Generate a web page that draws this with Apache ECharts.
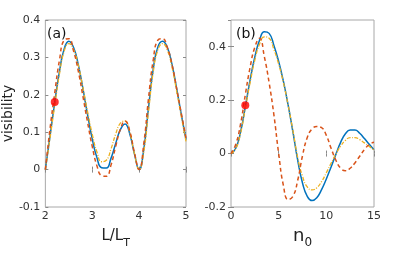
<!DOCTYPE html>
<html><head><meta charset="utf-8">
<script src="https://cdn.jsdelivr.net/npm/echarts@6/dist/echarts.min.js"></script>
<style>html,body{margin:0;padding:0;background:#fff}#c{width:415px;height:265px}</style>
</head><body><div id="c"></div>
<script>
// Panel (a): x = L/L_T
var xa = [2.0,2.1,2.2,2.3,2.4,2.5,2.6,2.7,2.8,2.9,3.0,3.1,3.2,3.3,3.4,3.5,3.6,3.7,3.8,3.9,4.0,4.1,4.2,4.3,4.4,4.5,4.6,4.7,4.8,4.9,5.0];
var aBlue = [0,0.09,0.18,0.262,0.322,0.343,0.327,0.282,0.217,0.147,0.082,0.032,0.005,0.004,0.03,0.07,0.107,0.122,0.096,0.042,0.0,0.055,0.165,0.268,0.328,0.343,0.327,0.282,0.217,0.147,0.08];
var aOrange = [0,0.11,0.205,0.292,0.346,0.35,0.318,0.265,0.197,0.127,0.062,0.01,-0.016,-0.018,0.012,0.062,0.108,0.13,0.103,0.045,0.0,0.07,0.19,0.292,0.346,0.35,0.327,0.282,0.217,0.15,0.085];
var aYellow = [0,0.085,0.172,0.255,0.316,0.337,0.322,0.28,0.22,0.155,0.095,0.047,0.021,0.025,0.055,0.095,0.124,0.13,0.1,0.043,0.0,0.048,0.155,0.26,0.32,0.337,0.32,0.275,0.21,0.142,0.075];
var aDot = [[2.2, 0.181]];
// Panel (b): x = n_0
var xb = [0,0.5,1,1.5,2,2.5,3,3.5,4,4.5,5,5.5,6,6.5,7,7.5,8,8.5,9,9.5,10,10.5,11,11.5,12,12.5,13,13.5,14,14.5,15];
var bBlue = [0,0.02,0.08,0.175,0.275,0.362,0.425,0.456,0.45,0.405,0.345,0.27,0.18,0.08,-0.025,-0.11,-0.16,-0.176,-0.165,-0.135,-0.095,-0.05,-0.003,0.042,0.074,0.088,0.088,0.076,0.056,0.035,0.014];
var bOrange = [0,0.035,0.11,0.22,0.322,0.398,0.432,0.362,0.265,0.145,0.0,-0.12,-0.172,-0.16,-0.1,-0.008,0.06,0.092,0.101,0.097,0.068,0.02,-0.025,-0.055,-0.064,-0.055,-0.035,-0.01,0.015,0.034,0.042];
var bYellow = [0,0.018,0.075,0.17,0.265,0.35,0.41,0.437,0.432,0.39,0.335,0.265,0.18,0.085,-0.015,-0.085,-0.125,-0.136,-0.128,-0.105,-0.072,-0.036,-0.002,0.028,0.049,0.06,0.06,0.052,0.04,0.027,0.013];
var bDot = [[1.5, 0.181]];
var yTicksA = [-0.1, 0.4, 0.1];
var yTicksB = [-0.2, 0.5, 0.2];

function zip(x, y){ return x.map(function(v,i){ return [v, y[i]]; }); }

var C_BLUE = '#0072BD', C_OR = '#D95319', C_YE = '#EDB120';
var tickStyle = {show:true, inside:true, length:3, lineStyle:{color:'#8a8a8a', width:1}};
var labStyle = {color:'#333', fontSize:11, fontFamily:'DejaVu Sans'};

function xAxisDef(grid, min, max, interval, name, rich, gap){
  return [{
    type:'value', gridIndex:grid, min:min, max:max, interval:interval,
    axisLine:{show:false}, splitLine:{show:false}, axisTick:tickStyle,
    axisLabel:Object.assign({margin:4}, labStyle),
    name:name, nameLocation:'middle', nameGap:gap,
    nameTextStyle:{rich:rich}
  },{
    type:'value', gridIndex:grid, min:min, max:max, interval:interval, position:'top',
    axisLine:{show:false}, splitLine:{show:false}, axisTick:tickStyle, axisLabel:{show:false}
  }];
}
function yAxisDef(grid, t, name){
  return [{
    type:'value', gridIndex:grid, min:t[0], max:t[1], interval:t[2],
    axisLine:{show:false}, splitLine:{show:false}, axisTick:tickStyle,
    axisLabel:Object.assign({margin:5, showMaxLabel: t[1] === 0.4}, labStyle),
    name:name, nameLocation:'middle', nameGap:28,
    nameTextStyle:{color:'#222', fontSize:14, fontFamily:'DejaVu Sans'}
  },{
    type:'value', gridIndex:grid, min:t[0], max:t[1], interval:t[2], position:'right',
    axisLine:{show:false}, splitLine:{show:false}, axisTick:tickStyle, axisLabel:{show:false}
  }];
}

var xaAx = xAxisDef(0, 2, 5, 1, '{n|L/L}{s|T}', {
  n:{fontSize:15, color:'#222', fontFamily:'DejaVu Sans', verticalAlign:'top'},
  s:{fontSize:11, color:'#222', fontFamily:'DejaVu Sans', padding:[9,0,0,0], verticalAlign:'top'}
}, 22);
var xbAx = xAxisDef(1, 0, 15, 5, '{n|n}{s|0}', {
  n:{fontSize:18, color:'#222', fontFamily:'DejaVu Sans', verticalAlign:'top'},
  s:{fontSize:12, color:'#222', fontFamily:'DejaVu Sans', padding:[10,0,0,0], verticalAlign:'top'}
}, 20);
var yaAx = yAxisDef(0, yTicksA, 'visibility');
var ybAx = yAxisDef(1, yTicksB, '');

function lineS(xi, yi, data, color, type, width){
  return {type:'line', xAxisIndex:xi, yAxisIndex:yi, data:data, showSymbol:false, smooth:0.5,
    clip:false,
    lineStyle:{color:color, width:width, type:type}, silent:true, animation:false, z:type==='solid'?3:4};
}

var option = {
  animation:false,
  grid:[
    {left:43, top:20, width:143, height:187, show:true, borderColor:'#a8a8a8', borderWidth:1, backgroundColor:'transparent'},
    {left:231, top:20, width:143, height:187, show:true, borderColor:'#a8a8a8', borderWidth:1, backgroundColor:'transparent'}
  ],
  xAxis: xaAx.concat(xbAx),
  yAxis: yaAx.concat(ybAx),
  graphic:[
    {type:'text', left:47, top:27, style:{text:'(a)', fontSize:14, fill:'#111', fontFamily:'DejaVu Sans'}},
    {type:'text', left:236, top:27, style:{text:'(b)', fontSize:14, fill:'#111', fontFamily:'DejaVu Sans'}}
  ],
  series:[
    lineS(0,0, zip(xa,aBlue), C_BLUE, 'solid', 1.5),
    lineS(0,0, zip(xa,aYellow), C_YE, [4,1.5,1,1.5], 1.3),
    lineS(0,0, zip(xa,aOrange), C_OR, [4,3], 1.5),
    {type:'scatter', xAxisIndex:0, yAxisIndex:0, data:aDot, symbolSize:8, itemStyle:{color:'#ff0000'}, z:6},
    lineS(2,2, zip(xb,bBlue), C_BLUE, 'solid', 1.5),
    lineS(2,2, zip(xb,bYellow), C_YE, [4,1.5,1,1.5], 1.3),
    lineS(2,2, zip(xb,bOrange), C_OR, [4,3], 1.5),
    {type:'scatter', xAxisIndex:2, yAxisIndex:2, data:bDot, symbolSize:8, itemStyle:{color:'#ff0000'}, z:6}
  ]
};
var chart = echarts.init(document.getElementById('c'), null, {renderer:'canvas'});
chart.setOption(option);
</script></body></html>
